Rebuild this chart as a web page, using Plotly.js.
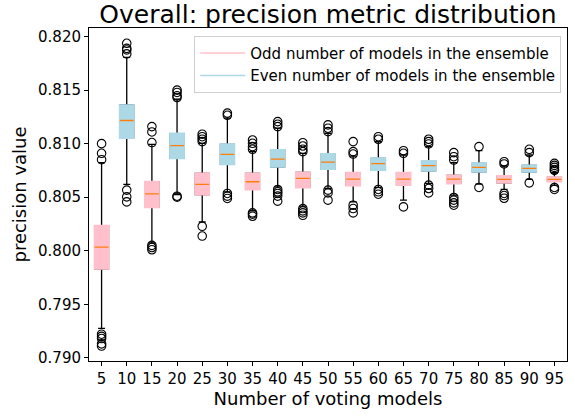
<!DOCTYPE html>
<html>
<head>
<meta charset="utf-8">
<script src="https://cdn.plot.ly/plotly-3.0.1.min.js"></script>
<style>html,body{margin:0;padding:0;background:#fff}#chart{width:575px;height:416px}</style>
</head>
<body>
<div id="chart"></div>
<script>
// Number of voting models (categories)
const categories = ['5','10','15','20','25','30','35','40','45','50','55','60','65','70','75','80','85','90','95'];

// Box statistics per category
const q1Values     = [0.79831,0.81053,0.80406,0.80863,0.80525,0.80807,0.80572,0.80784,0.80591,0.80763,0.80610,0.80753,0.80613,0.80747,0.80628,0.80737,0.80634,0.80737,0.80647];
const medianValues = [0.80034,0.81216,0.80531,0.80981,0.80619,0.80900,0.80644,0.80856,0.80675,0.80828,0.80669,0.80813,0.80669,0.80794,0.80669,0.80778,0.80666,0.80769,0.80666];
const q3Values     = [0.80234,0.81359,0.80644,0.81094,0.80722,0.80994,0.80722,0.80941,0.80731,0.80903,0.80728,0.80863,0.80728,0.80838,0.80703,0.80816,0.80697,0.80797,0.80685];
const lowerWhisker = [0.79275,0.80619,0.80072,0.80525,0.80268,0.80550,0.80372,0.80597,0.80416,0.80581,0.80456,0.80591,0.80472,0.80628,0.80519,0.80622,0.80572,0.80666,0.80613];
const upperWhisker = [0.80822,0.81806,0.80994,0.81416,0.81003,0.81238,0.80925,0.81144,0.80910,0.81097,0.80884,0.81019,0.80894,0.80972,0.80822,0.80934,0.80791,0.80894,0.80728];

// Outlier (flier) values per category
const outlierValues = [
  [0.8100,0.8091,0.8085,0.7922,0.7920,0.7918,0.7913,0.7911],
  [0.81937,0.8189,0.81875,0.81838,0.80566,0.80503,0.80456],
  [0.81159,0.81109,0.8101,0.8005,0.8003,0.80009],
  [0.8150,0.81478,0.81447,0.81431,0.80509,0.80500],
  [0.81088,0.81065,0.81041,0.81019,0.80228,0.80137],
  [0.81285,0.81265,0.80535,0.8051,0.80488],
  [0.81034,0.81003,0.80972,0.80947,0.80353,0.80341,0.80322],
  [0.81206,0.81181,0.81159,0.80572,0.8055,0.80535,0.8051,0.80463],
  [0.81009,0.80978,0.80947,0.80925,0.80394,0.80372,0.80353,0.80331],
  [0.81175,0.81144,0.81112,0.80566,0.8054,0.80472],
  [0.81019,0.80925,0.80903,0.80425,0.80394,0.80353],
  [0.81065,0.81041,0.80572,0.8055,0.80528],
  [0.80934,0.8091,0.80409],
  [0.81041,0.81019,0.80997,0.80613,0.80581,0.8054],
  [0.80916,0.80878,0.80847,0.80497,0.80472,0.80447,0.80425],
  [0.80972,0.80591],
  [0.80831,0.8081,0.80535,0.80515,0.8049],
  [0.80947,0.80916,0.80634],
  [0.80816,0.80797,0.80778,0.80759,0.8075,0.80591,0.80572]
];

const seriesNames = ['Odd number of models in the ensemble','Even number of models in the ensemble'];
const seriesColors = ['#ffc0cb','#add8e6'];
const medianColor = '#ff7f0e';

function pick(arr, parity) { return arr.filter((_, i) => i % 2 === parity); }

const traces = [];
const boxWidth = 0.55;
[0, 1].forEach(p => {
  const x = pick(categories, p);
  const q1 = pick(q1Values, p), med = pick(medianValues, p), q3 = pick(q3Values, p);
  const lo = pick(lowerWhisker, p), hi = pick(upperWhisker, p);
  traces.push({type:'box', x:x, q1:q1, median:med, q3:q3, lowerfence:lo, upperfence:hi,
    fillcolor:seriesColors[p], line:{color:'#000', width:1.3}, whiskerwidth:0.5,
    width:boxWidth, boxpoints:false, showlegend:false, hoverinfo:'skip'});
  traces.push({type:'box', x:x, q1:q1, median:med, q3:q3, lowerfence:q1, upperfence:q3,
    fillcolor:seriesColors[p], line:{color:seriesColors[p], width:2}, whiskerwidth:0,
    width:boxWidth, boxpoints:false, showlegend:false, hoverinfo:'skip'});
  traces.push({type:'box', x:x, q1:med, median:med, q3:med, lowerfence:med, upperfence:med,
    fillcolor:medianColor, line:{color:medianColor, width:1.3}, whiskerwidth:0,
    width:boxWidth, boxpoints:false, showlegend:false, hoverinfo:'skip'});
});

const ox = [], oy = [];
outlierValues.forEach((vals, i) => vals.forEach(v => { ox.push(categories[i]); oy.push(v); }));
traces.push({type:'scatter', mode:'markers', x:ox, y:oy, showlegend:false,
  marker:{symbol:'circle-open', size:8.5, color:'#000', line:{width:1.1, color:'#000'}}, hoverinfo:'skip'});

[0, 1].forEach(p => {
  traces.push({type:'scatter', mode:'lines', x:[null], y:[null], name:seriesNames[p],
    line:{color:seriesColors[p], width:1.5}, showlegend:true});
});

const layout = {
  width:575, height:416,
  margin:{l:89, r:8, t:28, b:55},
  paper_bgcolor:'#fff', plot_bgcolor:'#fff',
  font:{family:'DejaVu Sans', color:'#000', size:15},
  title:{text:'Overall: precision metric distribution', font:{size:25, color:'#000'},
    x:0.5, xref:'paper', xanchor:'center', y:1-14/416, yref:'container', yanchor:'middle'},
  boxmode:'overlay',
  showlegend:true,
  legend:{x:0.988, xanchor:'right', y:0.977, yanchor:'top', bgcolor:'rgba(255,255,255,0.8)',
    bordercolor:'#d0d0d0', borderwidth:1, font:{size:15}, tracegroupgap:0, itemwidth:45},
  xaxis:{type:'category', categoryorder:'array', categoryarray:categories, range:[-0.5, 18.5],
    showline:true, linecolor:'#000', linewidth:1, mirror:true, ticks:'outside', ticklen:4, tickcolor:'#000',
    showgrid:false, zeroline:false, tickfont:{size:15},
    title:{text:'Number of voting models', font:{size:18}, standoff:4}},
  yaxis:{range:[0.7897, 0.8208], tickvals:[0.790,0.795,0.800,0.805,0.810,0.815,0.820],
    ticktext:['0.790','0.795','0.800','0.805','0.810','0.815','0.820'],
    showline:true, linecolor:'#000', linewidth:1, mirror:true, ticks:'outside', ticklen:4, tickcolor:'#000',
    showgrid:false, zeroline:false, tickfont:{size:15},
    title:{text:'precision value', font:{size:18}, standoff:6}}
};

Plotly.newPlot('chart', traces, layout, {displayModeBar:false, staticPlot:true});
</script>
</body>
</html>
